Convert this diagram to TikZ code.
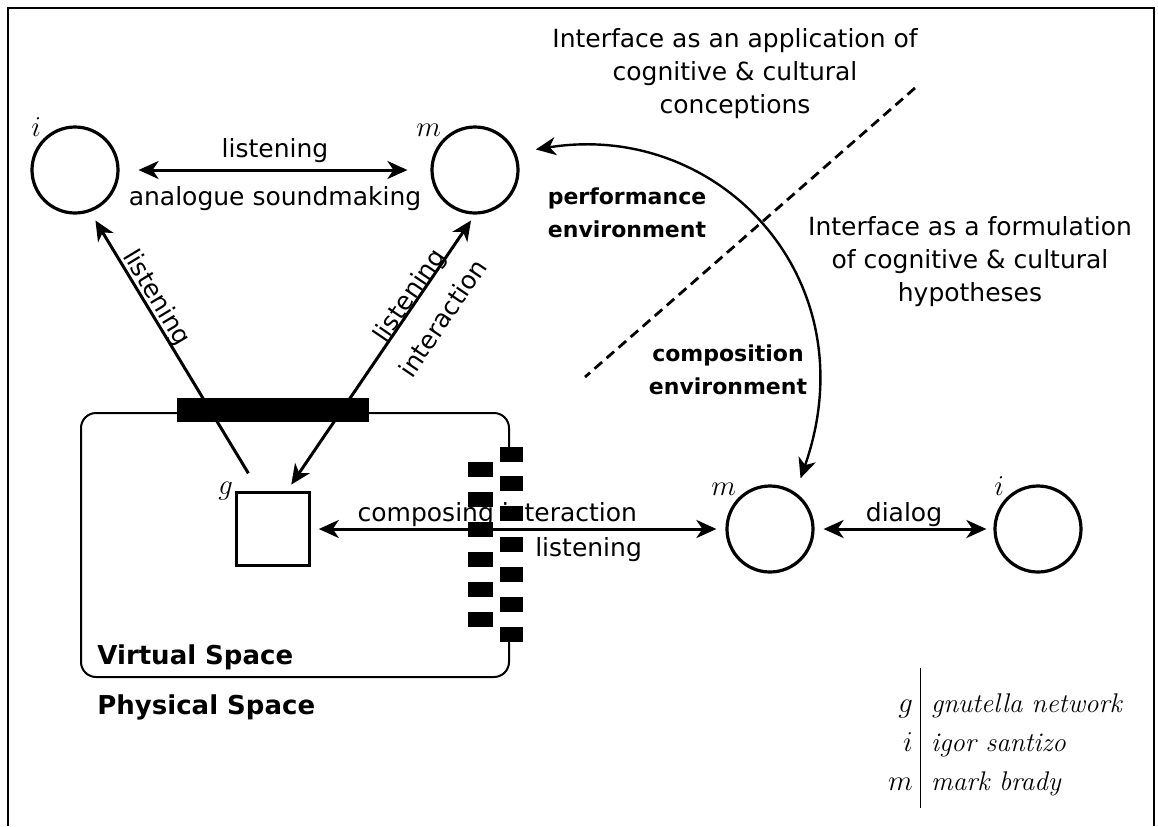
\documentclass[tikz,border=0pt]{standalone}
\usepackage{fontspec}
\setsansfont{DejaVu Sans}
\usetikzlibrary{arrows.meta}

\tikzset{
  person/.style={circle, draw, line width=1.6pt, minimum size=43pt, inner sep=0pt},
  peer/.style={rectangle, draw, line width=1.3pt, minimum size=36.5pt, inner sep=0pt},
  tag/.style={anchor=south east, inner sep=1pt, font=\fontsize{14}{16}\selectfont},
  duplex/.style={line width=1.5pt, <->},
  txt/.style={font=\sffamily\fontsize{12.5}{16.5}\selectfont},
  envtext/.style={font=\sffamily\bfseries\fontsize{11}{16.5}\selectfont, align=center},
  spacetext/.style={font=\sffamily\bfseries\fontsize{13}{16}\selectfont, inner sep=0pt},
}

\begin{document}
\begin{tikzpicture}[x=0.5pt, y=-0.5pt, >={Stealth[length=10pt,width=9pt,inset=3pt]}]
    \useasboundingbox (0,0) rectangle (1158,826);
    \draw[line width=1.2pt] (8,826) -- (8,8) -- (1154,8) -- (1154,826);

    % the players
    \node[person] (it) at (75,170) {};
    \node[person] (mt) at (475,170) {};
    \node[peer] (g) at (273,529) {};
    \node[person] (mb) at (770,529) {};
    \node[person] (ib) at (1038,529) {};
    \node[tag] (itlab) at (it.135) {$i$};
    \node[tag] (mtlab) at (mt.135) {$m$};
    \node[tag, anchor=east] (glab) at (g.north west) {$g$};
    \node[tag] (mblab) at (mb.135) {$m$};
    \node[tag] (iblab) at (ib.135) {$i$};

    % virtual space
    \draw[line width=1pt, rounded corners=7.5pt] (509,447) -- (509,413) -- (81,413) -- (81,677) -- (509,677) -- (509,641);
    \node[spacetext, anchor=base west] (virt) at (97,664) {Virtual Space};
    \node[spacetext, anchor=base west] (phys) at (97,714) {Physical Space};

    \draw[duplex, shorten <=9.5pt, shorten >=11.5pt] (it) -- (mt)
        node[midway, above, txt, inner sep=3pt] {listening}
        node[midway, below=4pt, txt] {analogue soundmaking};
    \draw[line width=1.5pt, ->, shorten <=10.5pt, shorten >=5pt] (g.110) -- (it.-70)
        node[pos=0.67, sloped, above=-1pt, txt, inner sep=0pt] {listening};
    \draw[duplex, shorten <=4pt, shorten >=3.5pt] (g.70) -- (mt.south)
        node[pos=0.69, sloped, above=-3pt, txt, inner sep=0pt] {listening}
        node[pos=0.69, sloped, below=7pt, txt, inner sep=3pt] {interaction};
    \fill (177,398) rectangle (369,422);

    \draw[duplex, shorten <=4pt, shorten >=4.5pt] (g.east) -- (mb.west)
        node[pos=0.45, above, txt, inner sep=0.5pt] {composing interaction}
        node[pos=0.67, below, txt] {listening};
    \foreach \y in {447,476,506,537,567,597,627}
        \fill (500,\y) rectangle (523,\y+15);
    \foreach \y in {462,492,...,612}
        \fill (468,\y) rectangle (493,\y+15);

    \draw[duplex, shorten <=4.5pt, shorten >=3.5pt] (mb) -- (ib)
        node[midway, above, txt, inner sep=0.5pt] {dialog};

    % environments
    \draw[<->, line width=1.2pt, shorten <=10pt, shorten >=7.5pt] (mt.23) .. controls (720,120) and (870,280) .. (mb.55);
    \draw[line width=1.4pt, dash pattern=on 5pt off 3pt] (915,88) -- (585,377);
    \node[envtext] (perf) at (627,213) {performance\\environment};
    \node[envtext] (comp) at (728,370) {composition\\environment};
    \node[txt, align=center] (appl) at (735,74) {Interface as an application of\\cognitive \& cultural\\conceptions};
    \node[txt, align=center] (form) at (970,262) {Interface as a formulation\\of cognitive \& cultural\\hypotheses};

    % key
    \node[font=\itshape\fontsize{13.5}{16.25}\selectfont, inner sep=0pt] (key) at (1005,738) {%
        \renewcommand{\arraystretch}{1.2}%
        \begin{tabular}{@{}r@{\hspace{4pt}}|@{\hspace{5pt}}l@{}}
            $g$ & \rule{0pt}{22pt}gnutella network\\
            $i$ & igor santizo\\
            $m$ & \rule[-9pt]{0pt}{9pt}mark brady
        \end{tabular}};
\end{tikzpicture}
\end{document}
